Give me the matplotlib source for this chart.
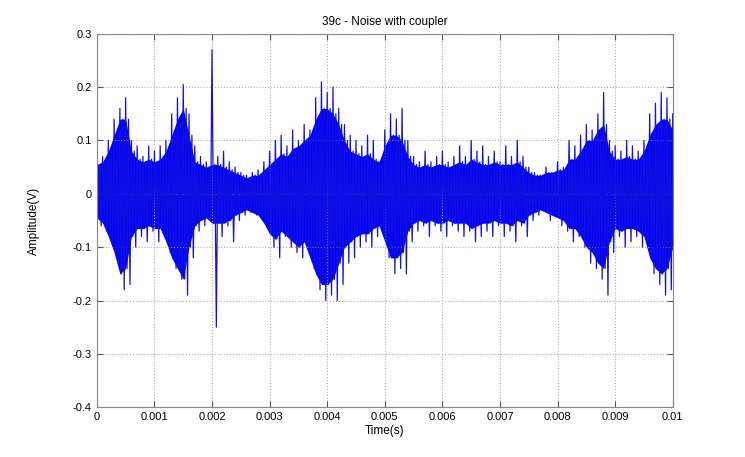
import numpy as np
import matplotlib
matplotlib.use("Agg")
import matplotlib.pyplot as plt

plt.rcParams['font.family'] = ['Liberation Sans', 'DejaVu Sans']

# peak envelope, one value every 0.1 ms (0 .. 10 ms)
peak_hi = [0.08, 0.07, 0.10, 0.14, 0.16, 0.18, 0.10, 0.09, 0.07, 0.09,
           0.08, 0.09, 0.10, 0.15, 0.18, 0.205, 0.15, 0.09, 0.07, 0.06,
           0.27, 0.07, 0.08, 0.06, 0.05, 0.04, 0.035, 0.04, 0.045, 0.06,
           0.08, 0.10, 0.11, 0.09, 0.12, 0.10, 0.13, 0.12, 0.18, 0.21,
           0.19, 0.20, 0.16, 0.13, 0.11, 0.10, 0.09, 0.11, 0.10, 0.06,
           0.12, 0.15, 0.14, 0.16, 0.10, 0.07, 0.06, 0.08, 0.06, 0.07,
           0.08, 0.06, 0.07, 0.09, 0.07, 0.10, 0.08, 0.09, 0.07, 0.08,
           0.06, 0.09, 0.07, 0.10, 0.07, 0.05, 0.04, 0.035, 0.05, 0.04,
           0.06, 0.05, 0.10, 0.09, 0.11, 0.13, 0.12, 0.15, 0.19, 0.10,
           0.09, 0.08, 0.10, 0.09, 0.08, 0.10, 0.15, 0.17, 0.19, 0.18,
           0.15]
peak_lo = [-0.06, -0.07, -0.09, -0.13, -0.18, -0.17, -0.10, -0.08, -0.09, -0.07,
           -0.09, -0.08, -0.11, -0.14, -0.16, -0.19, -0.12, -0.07, -0.06, -0.05,
           -0.25, -0.08, -0.06, -0.09, -0.05, -0.04, -0.035, -0.04, -0.05, -0.06,
           -0.10, -0.12, -0.08, -0.10, -0.11, -0.12, -0.10, -0.14, -0.18, -0.20,
           -0.19, -0.20, -0.17, -0.13, -0.12, -0.10, -0.09, -0.10, -0.08, -0.07,
           -0.12, -0.15, -0.14, -0.15, -0.09, -0.07, -0.06, -0.08, -0.06, -0.07,
           -0.08, -0.06, -0.07, -0.08, -0.07, -0.09, -0.08, -0.07, -0.08, -0.06,
           -0.08, -0.07, -0.09, -0.06, -0.08, -0.05, -0.04, -0.03, -0.05, -0.04,
           -0.06, -0.07, -0.09, -0.08, -0.10, -0.13, -0.14, -0.16, -0.19, -0.11,
           -0.08, -0.10, -0.09, -0.08, -0.10, -0.09, -0.15, -0.17, -0.19, -0.18,
           -0.12]

# solid core of the trace, same 0.1 ms spacing
core_hi = [0.055, 0.06, 0.08, 0.11, 0.14, 0.14, 0.08, 0.065, 0.06, 0.065,
           0.06, 0.065, 0.08, 0.11, 0.14, 0.16, 0.11, 0.06, 0.055, 0.05,
           0.055, 0.055, 0.05, 0.045, 0.04, 0.035, 0.03, 0.035, 0.035, 0.045,
           0.055, 0.065, 0.075, 0.07, 0.085, 0.09, 0.10, 0.11, 0.14, 0.16,
           0.16, 0.15, 0.13, 0.10, 0.08, 0.075, 0.07, 0.075, 0.065, 0.06,
           0.09, 0.11, 0.11, 0.10, 0.07, 0.055, 0.05, 0.055, 0.05, 0.055,
           0.055, 0.05, 0.055, 0.06, 0.055, 0.065, 0.06, 0.055, 0.055, 0.06,
           0.055, 0.055, 0.055, 0.06, 0.05, 0.04, 0.035, 0.035, 0.04, 0.04,
           0.045, 0.045, 0.065, 0.065, 0.08, 0.10, 0.10, 0.12, 0.13, 0.08,
           0.065, 0.065, 0.07, 0.065, 0.065, 0.08, 0.11, 0.13, 0.14, 0.14,
           0.12]
core_lo = [-0.045, -0.055, -0.08, -0.11, -0.15, -0.14, -0.08, -0.065, -0.065, -0.06,
           -0.065, -0.065, -0.09, -0.12, -0.14, -0.16, -0.10, -0.06, -0.05, -0.045,
           -0.055, -0.055, -0.055, -0.05, -0.04, -0.035, -0.03, -0.035, -0.04, -0.055,
           -0.075, -0.085, -0.07, -0.08, -0.09, -0.10, -0.09, -0.12, -0.15, -0.17,
           -0.17, -0.16, -0.13, -0.10, -0.09, -0.08, -0.075, -0.075, -0.065, -0.06,
           -0.09, -0.12, -0.12, -0.11, -0.07, -0.055, -0.05, -0.055, -0.05, -0.055,
           -0.055, -0.05, -0.055, -0.055, -0.055, -0.065, -0.06, -0.055, -0.055, -0.05,
           -0.055, -0.055, -0.06, -0.05, -0.055, -0.04, -0.035, -0.03, -0.035, -0.04,
           -0.045, -0.05, -0.065, -0.065, -0.08, -0.10, -0.11, -0.13, -0.14, -0.09,
           -0.065, -0.07, -0.065, -0.065, -0.07, -0.08, -0.12, -0.14, -0.15, -0.14,
           -0.10]

step = 1e-4
t_base = np.arange(len(peak_hi)) * step

# each 0.1 ms: up to the high peak, back through the core, down to the low peak
t_trace = np.column_stack([t_base, t_base + step * 0.25,
                           t_base + step * 0.5, t_base + step * 0.75]).ravel()
v_trace = np.column_stack([peak_hi, core_lo, core_hi, peak_lo]).ravel()
keep = t_trace <= 0.01
t_trace, v_trace = t_trace[keep], v_trace[keep]

fig = plt.figure(figsize=(7.45, 4.57), dpi=100)
ax = fig.add_axes([0.130, 0.109, 0.773, 0.817])

ax.fill_between(t_base, core_lo, core_hi, color='#0000ff', lw=0)
ax.plot(t_trace, v_trace, color='#1010e0', lw=0.9)

ax.set_xlim(0, 0.01)
ax.set_ylim(-0.4, 0.3)
ax.set_xticks(np.arange(0, 0.0101, 0.001))
ax.set_xticklabels(['0', '0.001', '0.002', '0.003', '0.004', '0.005',
                    '0.006', '0.007', '0.008', '0.009', '0.01'])
ax.set_yticks(np.arange(-0.4, 0.31, 0.1))
ax.set_yticklabels(['-0.4', '-0.3', '-0.2', '-0.1', '0', '0.1', '0.2', '0.3'])
ax.tick_params(direction='in', top=True, right=True, labelsize=8, length=4, color='#555555')
ax.grid(True, linestyle=':', color='#aaaaaa', lw=0.8)
for s in ax.spines.values():
    s.set_color('#888888')

ax.set_title('39c - Noise with coupler', fontsize=8.5)
ax.set_xlabel('Time(s)', fontsize=8.5, labelpad=2)
ax.set_ylabel('Amplitude(V)', fontsize=8.5, labelpad=24)

fig.savefig('out.png', dpi=100)
